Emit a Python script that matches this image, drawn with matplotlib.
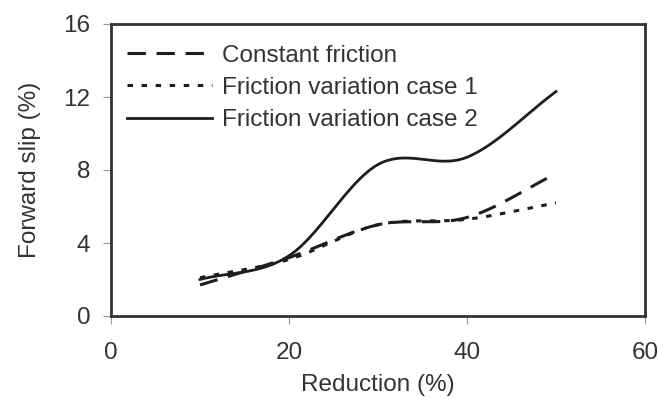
import numpy as np
import matplotlib
matplotlib.use("Agg")
import matplotlib.pyplot as plt

reduction = [10, 20, 30, 40, 50]
constant_friction = [1.7, 3.2, 5.0, 5.4, 7.8]
friction_case1 = [2.1, 3.1, 5.0, 5.3, 6.2]
friction_case2 = [2.0, 3.3, 8.3, 8.7, 12.3]

labels = ["Constant friction", "Friction variation case 1", "Friction variation case 2"]
xticks = [0, 20, 40, 60]
yticks = [0, 4, 8, 12, 16]


def smooth(x, y, n=40):
    # Catmull-Rom style smoothing (like a spreadsheet "smoothed line")
    x = np.asarray(x, float)
    y = np.asarray(y, float)
    px = np.concatenate([[2 * x[0] - x[1]], x, [2 * x[-1] - x[-2]]])
    py = np.concatenate([[2 * y[0] - y[1]], y, [2 * y[-1] - y[-2]]])
    xs, ys = [], []
    t = np.linspace(0, 1, n)
    for i in range(1, len(px) - 2):
        p0, p1, p2, p3 = px[i - 1], px[i], px[i + 1], px[i + 2]
        q0, q1, q2, q3 = py[i - 1], py[i], py[i + 1], py[i + 2]
        h00 = 2 * t**3 - 3 * t**2 + 1
        h10 = t**3 - 2 * t**2 + t
        h01 = -2 * t**3 + 3 * t**2
        h11 = t**3 - t**2
        xs.append(h00 * p1 + h10 * (p2 - p0) / 2 + h01 * p2 + h11 * (p3 - p1) / 2)
        ys.append(h00 * q1 + h10 * (q2 - q0) / 2 + h01 * q2 + h11 * (q3 - q1) / 2)
    return np.concatenate(xs), np.concatenate(ys)


plt.rcParams['font.family'] = ['Liberation Sans', 'DejaVu Sans']
FS = 17.5
fig = plt.figure(figsize=(6.58, 3.98), dpi=100)
ax = fig.add_axes([111 / 658, 1 - 316 / 398, (645 - 111) / 658, (316 - 24) / 398])

col = "#1e1e1e"
sx, sy = smooth(reduction, constant_friction)
ax.plot(sx, sy, color=col, lw=2.2, dashes=(6, 3.5), label=labels[0])
sx, sy = smooth(reduction, friction_case1)
ax.plot(sx, sy, color=col, lw=2.2, dashes=(1.8, 2.8), label=labels[1])
sx, sy = smooth(reduction, friction_case2)
ax.plot(sx, sy, color=col, lw=2.0, label=labels[2])

ax.set_xlim(0, 60)
ax.set_ylim(0, 16)
ax.set_xticks(xticks)
ax.set_yticks(yticks)
ax.tick_params(axis='both', direction='out', length=6, width=0.8, color='#999999',
               labelsize=FS, labelcolor='#333333')
ax.tick_params(axis='y', pad=9)
ax.tick_params(axis='x', pad=13)
for s in ax.spines.values():
    s.set_linewidth(2)
    s.set_color('#333333')

ax.set_xlabel("Reduction (%)", fontsize=FS, color='#333333', labelpad=7)
ax.set_ylabel("Forward slip (%)", fontsize=FS, color='#333333', labelpad=16)

leg = ax.legend(loc='upper left', frameon=False, fontsize=FS, handlelength=3.5,
                handletextpad=0.4, labelspacing=0.42, borderaxespad=0.45,
                bbox_to_anchor=(-0.008, 1.0))
for t in leg.get_texts():
    t.set_color('#333333')

fig.savefig("out.png", dpi=100)
